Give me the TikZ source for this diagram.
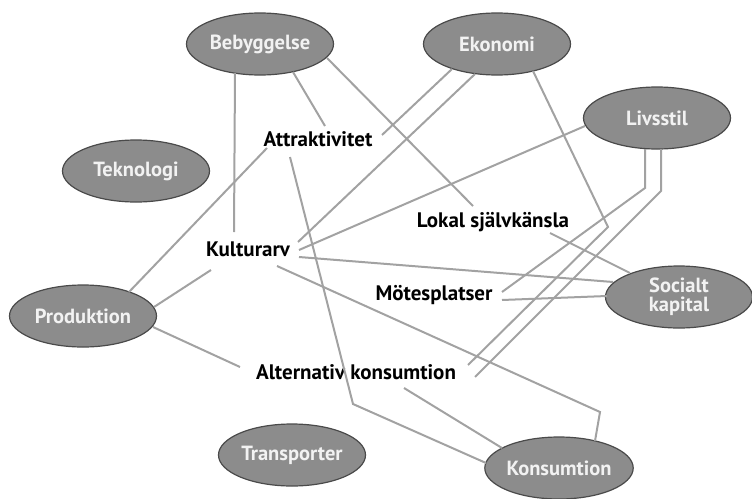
\documentclass[tikz,border=0pt]{standalone}
\usepackage{fontspec}
\setmainfont{PT Sans}
\usetikzlibrary{shapes.geometric}
\definecolor{ellfill}{HTML}{8C8C8C}
\definecolor{elldraw}{HTML}{4A4A4A}
\definecolor{elltext}{HTML}{F2F2F2}
\definecolor{linkcol}{HTML}{A2A2A2}
\tikzset{
  topic/.style={ellipse, fill=ellfill, draw=elldraw, line width=1.2pt,
    minimum width=147pt, minimum height=62pt, inner sep=0pt,
    text=elltext, font=\bfseries\fontsize{20.5}{19}\selectfont, align=center},
  concept/.style={inner sep=0pt, text=black, font=\bfseries\fontsize{21}{21}\selectfont},
  link/.style={draw=linkcol, line width=2pt}
}
\begin{document}
\begin{tikzpicture}[x=1pt,y=-1pt]
\useasboundingbox (0,0) rectangle (752,498);
% topic nodes
\node[topic] (bebyg) at (260,44) {Bebyggelse};
\node[topic] (ekon) at (497,44) {Ekonomi};
\node[topic] (livs) at (657,118) {Livsstil};
\node[topic] (tekno) at (136,171) {Teknologi};
\node[topic] (prod) at (83,316) {Produktion};
\node[topic] (social) at (679,297) {Socialt\\kapital};
\node[topic] (transp) at (292,455) {Transporter};
\node[topic] (konsum) at (559,468) {Konsumtion};
% concept nodes
\node[concept] (attr) at (318,139) {Attraktivitet};
\node[concept] (lokal) at (493,222) {Lokal självkänsla};
\node[concept] (kult) at (248,249) {Kulturarv};
\node[concept] (mote) at (434,295) {Mötesplatser};
\node[concept] (alt) at (356,372) {Alternativ konsumtion};
% bends
\coordinate (bLivsA) at (645,188);
\coordinate (bLivsB) at (661,191);
\coordinate (bEkon) at (608,227);
\coordinate (bKult) at (600,412);
\coordinate (bAttr) at (353,404);
% links
\draw[link] ([shift={(-25,29)}]bebyg.center) -- ([shift={(-14,-17)}]kult.center);
\draw[link] ([shift={(33,28)}]bebyg.center) -- ([shift={(7,-13)}]attr.center);
\draw[link] ([shift={(67,14)}]bebyg.center) -- ([shift={(-20,-16)}]lokal.center);
\draw[link] ([shift={(-45,25)}]ekon.center) -- ([shift={(64,-4)}]attr.center);
\draw[link] ([shift={(-22,30)}]ekon.center) -- ([shift={(50,-7)}]kult.center);
\draw[link] ([shift={(-72,8)}]livs.center) -- ([shift={(51,1)}]kult.center);
\draw[link] ([shift={(-12,31)}]livs.center) -- (bLivsA) -- ([shift={(68,-3)}]mote.center);
\draw[link] ([shift={(4,31)}]livs.center) -- (bLivsB) -- ([shift={(119,5)}]alt.center);
\draw[link] ([shift={(36,27)}]ekon.center) -- (bEkon) -- ([shift={(112,-7)}]alt.center);
\draw[link] ([shift={(57,11)}]lokal.center) -- ([shift={(-49,-24)}]social.center);
\draw[link] ([shift={(51,8)}]kult.center) -- ([shift={(-66,-15)}]social.center);
\draw[link] ([shift={(68,5)}]mote.center) -- ([shift={(-72,-1)}]social.center);
\draw[link] ([shift={(29,17)}]kult.center) -- (bKult) -- ([shift={(36,-27)}]konsum.center);
\draw[link] ([shift={(46,-24)}]prod.center) -- ([shift={(-51,9)}]attr.center);
\draw[link] ([shift={(71,-9)}]prod.center) -- ([shift={(-37,21)}]kult.center);
\draw[link] ([shift={(70,11)}]prod.center) -- ([shift={(-116,-5)}]alt.center);
\draw[link] ([shift={(48,16)}]alt.center) -- ([shift={(-57,-20)}]konsum.center);
\draw[link] ([shift={(-28,18)}]attr.center) -- (bAttr) -- ([shift={(-73,-5)}]konsum.center);
\end{tikzpicture}
\end{document}
